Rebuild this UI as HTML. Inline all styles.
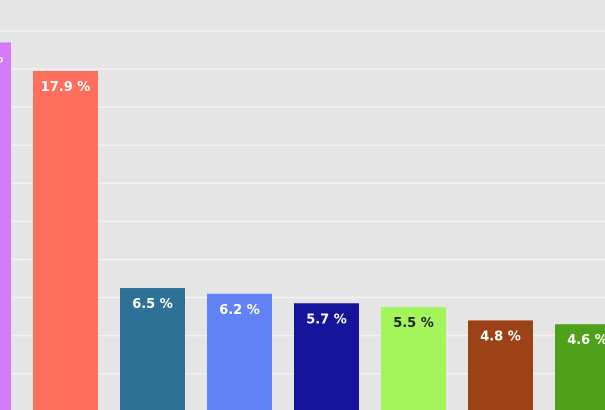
<!DOCTYPE html>
<html><head><meta charset="utf-8"><style>
body{margin:0;width:605px;height:410px;overflow:hidden;background:#e5e5e5}
svg{display:block}
</style></head><body>
<svg id="chart" width="605" height="410" xmlns="http://www.w3.org/2000/svg">
<rect width="605" height="410" fill="#e5e5e5"/>
<g id="grid"></g><g id="bars"></g>
</svg>
<script>
const categories = ["A","B","C","D","E","F","G","H"];
const values = [19.4,17.9,6.5,6.2,5.7,5.5,4.8,4.6];
const labels = ["19.4 %","17.9 %","6.5 %","6.2 %","5.7 %","5.5 %","4.8 %","4.6 %"];
const colors = ["#d67af5","#ff6f5e","#2e7197","#6283f5","#15159b","#a3f55a","#9d4216","#4fa11b"];
const textColors = ["#fff","#fff","#fff","#fff","#fff","#222","#fff","#fff"];
const gridValues = [2,4,6,8,10,12,14,16,18,20];
const NS="http://www.w3.org/2000/svg";
const y0=411.8, k=19.04;
function y(v){return y0-v*k;}
function x(i){return -54+i*87;}
const grid=document.getElementById('grid'), bars=document.getElementById('bars');
gridValues.forEach(g=>{
 const l=document.createElementNS(NS,'line');
 l.setAttribute('x1',0);l.setAttribute('x2',605);l.setAttribute('y1',y(g));l.setAttribute('y2',y(g));
 l.setAttribute('stroke','#f2f2f2');l.setAttribute('stroke-width','1.5');
 
 
 grid.appendChild(l);
});
values.forEach((v,i)=>{
 const r=document.createElementNS(NS,'rect');
 r.setAttribute('x',x(i));r.setAttribute('y',y(v));r.setAttribute('width',65);r.setAttribute('height',y0-y(v)+5);
 r.setAttribute('fill',colors[i]);
 
 
 bars.appendChild(r);
 const t=document.createElementNS(NS,'text');
 t.setAttribute('x',x(i)+32.5);t.setAttribute('y',y(v)+20);
 t.setAttribute('text-anchor','middle');t.setAttribute('fill',textColors[i]);
 t.setAttribute('font-family','"DejaVu Sans", sans-serif');t.setAttribute('font-weight','bold');t.setAttribute('font-size','13');
 t.textContent=labels[i];
 
 
 bars.appendChild(t);
});
</script>
</body></html>
